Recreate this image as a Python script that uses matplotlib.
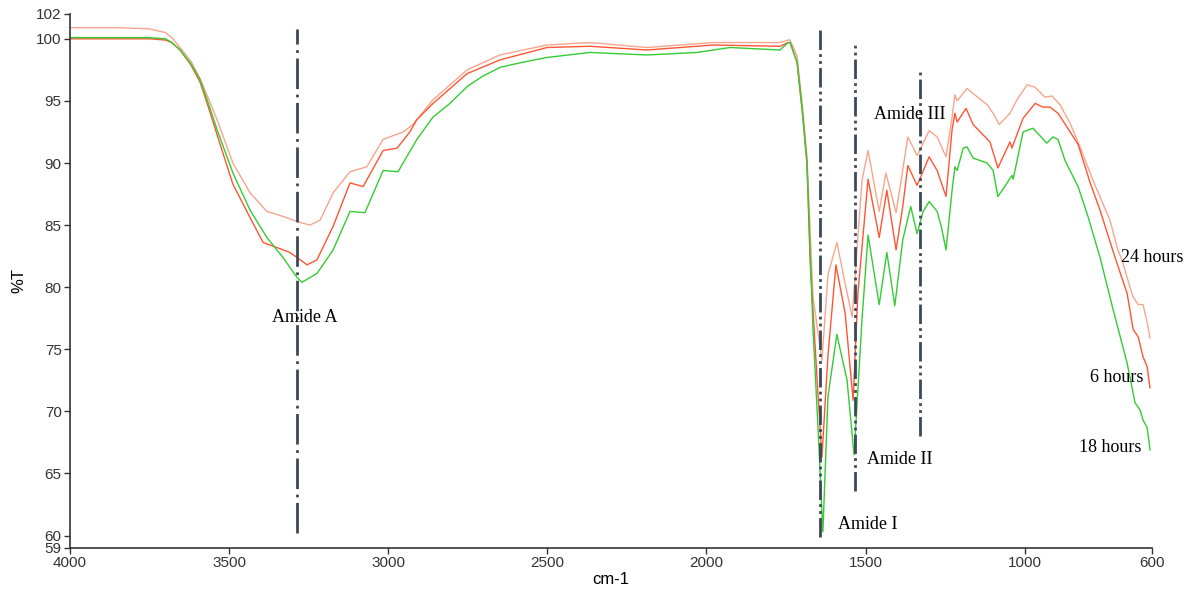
import matplotlib
matplotlib.use("Agg")
import matplotlib.pyplot as plt

# ---- data: (wavenumber cm-1, %T) ----
spec_18h = [
    (4000, 100.1), (3850, 100.1), (3750, 100.1), (3700, 100.0), (3680, 99.7), (3654, 99.1),
    (3620, 98.0), (3591, 96.7), (3565, 94.8), (3538, 92.7), (3488, 89.2), (3434, 86.2),
    (3381, 84.0), (3331, 82.4), (3287, 80.8), (3271, 80.4), (3224, 81.1), (3173, 83.0),
    (3120, 86.1), (3073, 86.0), (3016, 89.4), (2969, 89.3), (2910, 91.9), (2859, 93.7),
    (2806, 94.8), (2750, 96.2), (2702, 97.0), (2649, 97.7), (2580, 98.1), (2501, 98.5),
    (2366, 98.9), (2187, 98.7), (2030, 98.9), (1926, 99.3), (1769, 99.1), (1743, 99.7),
    (1737, 99.7), (1715, 98.1), (1698, 94.0), (1684, 90.0), (1665, 76.6), (1649, 68.5),
    (1634, 60.3), (1618, 71.2), (1590, 76.2), (1558, 72.5), (1536, 66.5), (1511, 77.4),
    (1492, 84.2), (1457, 78.6), (1433, 82.8), (1408, 78.5), (1383, 83.8), (1358, 86.5),
    (1338, 84.3), (1319, 86.1), (1300, 86.9), (1275, 86.1), (1262, 84.9), (1247, 83.0),
    (1228, 87.8), (1219, 89.7), (1212, 89.4), (1193, 91.2), (1181, 91.3), (1162, 90.4),
    (1118, 90.0), (1099, 89.4), (1084, 87.3), (1055, 88.4), (1040, 89.0), (1036, 88.7),
    (1005, 92.5), (974, 92.8), (930, 91.6), (911, 92.1), (895, 91.9), (873, 90.2),
    (832, 88.1), (801, 85.7), (763, 82.4), (722, 78.2), (678, 73.9), (653, 70.7),
    (637, 70.1), (628, 69.3), (615, 68.7), (606, 66.9)]

spec_6h = [
    (4000, 100.0), (3850, 100.0), (3750, 100.0), (3700, 99.9), (3680, 99.7), (3654, 99.1),
    (3620, 97.9), (3591, 96.5), (3565, 94.5), (3538, 92.3), (3488, 88.3), (3434, 85.6),
    (3393, 83.6), (3350, 83.2), (3309, 82.8), (3287, 82.4), (3255, 81.8), (3224, 82.2),
    (3173, 84.9), (3120, 88.4), (3079, 88.1), (3016, 91.0), (2972, 91.2), (2932, 92.5),
    (2910, 93.5), (2859, 94.8), (2752, 97.2), (2649, 98.3), (2501, 99.3), (2366, 99.4),
    (2187, 99.1), (1979, 99.5), (1769, 99.4), (1743, 99.7), (1737, 99.7), (1715, 98.1),
    (1698, 94.0), (1684, 90.0), (1674, 82.0), (1652, 72.5), (1637, 66.3), (1618, 74.5),
    (1593, 81.8), (1564, 77.9), (1539, 70.9), (1524, 79.5), (1492, 88.7), (1457, 84.0),
    (1433, 87.8), (1404, 83.0), (1383, 86.5), (1367, 89.8), (1338, 88.2), (1300, 90.5),
    (1275, 89.4), (1247, 87.3), (1228, 92.7), (1219, 94.0), (1212, 93.3), (1184, 94.4),
    (1162, 93.1), (1109, 91.7), (1084, 89.6), (1046, 91.7), (1040, 91.2), (1005, 93.6),
    (967, 94.8), (942, 94.5), (920, 94.5), (895, 94.0), (867, 92.9), (832, 91.5),
    (794, 88.4), (763, 86.2), (716, 82.4), (678, 79.5), (659, 76.6), (643, 76.0),
    (628, 74.4), (615, 73.6), (606, 71.9)]

spec_24h = [
    (4000, 100.9), (3850, 100.9), (3750, 100.8), (3700, 100.5), (3680, 100.1), (3654, 99.3),
    (3620, 98.2), (3591, 96.8), (3565, 95.2), (3538, 93.5), (3488, 90.0), (3434, 87.6),
    (3381, 86.1), (3331, 85.7), (3287, 85.3), (3246, 85.0), (3214, 85.4), (3173, 87.6),
    (3120, 89.3), (3067, 89.7), (3016, 91.9), (2953, 92.5), (2922, 93.1), (2859, 95.1),
    (2752, 97.5), (2649, 98.7), (2501, 99.5), (2366, 99.7), (2187, 99.3), (1979, 99.7),
    (1769, 99.7), (1743, 99.9), (1737, 99.9), (1715, 98.6), (1698, 94.5), (1684, 90.5),
    (1665, 79.2), (1637, 74.1), (1618, 81.0), (1590, 83.6), (1564, 80.3), (1542, 77.6),
    (1511, 88.6), (1492, 91.0), (1457, 86.1), (1436, 89.2), (1404, 86.0), (1367, 92.1),
    (1338, 90.6), (1300, 92.6), (1275, 92.1), (1247, 90.5), (1228, 93.7), (1219, 95.5),
    (1212, 95.0), (1181, 96.0), (1162, 95.6), (1118, 94.7), (1099, 94.0), (1080, 93.1),
    (1046, 94.0), (1024, 95.1), (992, 96.3), (967, 96.1), (936, 95.3), (914, 95.4),
    (889, 94.7), (857, 93.2), (826, 91.3), (785, 88.6), (732, 85.4), (707, 83.0),
    (694, 82.2), (669, 80.0), (659, 79.2), (643, 78.6), (628, 78.6), (612, 76.8),
    (606, 75.9)]

band_wn = [3285, 1642, 1533, 1328]
band_top = [100.8, 100.8, 99.8, 97.3]
band_bottom = [60.2, 59.9, 63.6, 68.0]

band_labels = ["Amide A", "Amide I", "Amide II", "Amide III"]
band_label_pos = [(3261, 77.6), (1492, 60.9), (1392, 66.1), (1360, 93.9)]

series_labels = ["24 hours", "6 hours", "18 hours"]
series_label_pos = [(600, 82.4), (710, 72.7), (732, 67.1)]

x_ticks = [4000, 3500, 3000, 2500, 2000, 1500, 1000, 600]
y_ticks = [59, 60, 65, 70, 75, 80, 85, 90, 95, 100, 102]

# ---- figure ----
plt.rcParams['lines.scale_dashes'] = False
fig = plt.figure(figsize=(11.9, 5.95), dpi=100)
ax = fig.add_axes([0.0588, 0.079, 0.9092, 0.8975])

for spec, col in [(spec_24h, '#f7a58c'), (spec_6h, '#ff5533'), (spec_18h, '#33cc33')]:
    xs, ys = zip(*spec)
    ax.plot(xs, ys, color=col, lw=1.0)

line_col = '#3c4859'
dash_a = (0, (22, 4, 2, 4))
dash_b = (0, (14, 3, 2, 3, 2, 3))
for i, (w, tp, bt) in enumerate(zip(band_wn, band_top, band_bottom)):
    ax.plot([w, w], [bt, tp], color=line_col, lw=2.0,
            linestyle=dash_a if i == 0 else dash_b)

serif = ['Liberation Serif', 'DejaVu Serif']
for lab, (x, y) in zip(band_labels, band_label_pos):
    ax.text(x, y, lab, ha='center', va='center', fontsize=13, family=serif)
for lab, (x, y) in zip(series_labels, series_label_pos):
    ax.text(x, y, lab, ha='center', va='center', fontsize=13, family=serif, clip_on=False)

ax.set_xlim(4000, 600)
ax.set_ylim(59, 102)
ax.set_xticks(x_ticks)
ax.set_yticks(y_ticks)
sans = ['Liberation Sans', 'DejaVu Sans']
for lbl in ax.get_xticklabels() + ax.get_yticklabels():
    lbl.set_family(sans)
    lbl.set_fontsize(11)
ax.tick_params(direction='out', length=4, width=1, pad=2, colors='#333333')
for s in ['top', 'right']:
    ax.spines[s].set_visible(False)
for s in ['left', 'bottom']:
    ax.spines[s].set_color('#333333')
    ax.spines[s].set_linewidth(1.2)

ax.set_xlabel('cm-1', fontsize=12, family=sans, labelpad=1)
ax.set_ylabel('%T', fontsize=12, family=sans, labelpad=7)

fig.savefig('out.png', dpi=100)
